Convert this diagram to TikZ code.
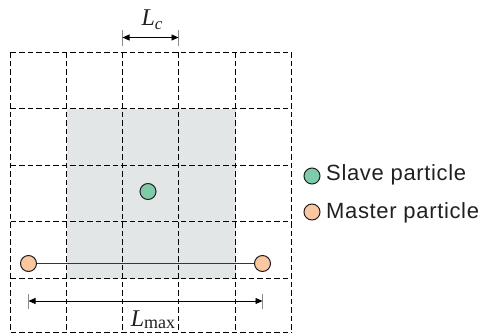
\documentclass[tikz,border=0pt]{standalone}
\usepackage{fontspec}
\setmainfont{Liberation Serif}
\newfontfamily\legendfont[LetterSpace=3]{Liberation Sans}
\usetikzlibrary{arrows.meta}
\definecolor{shadecol}{HTML}{E3E6E7}
\definecolor{slavecol}{HTML}{7DCBA8}
\definecolor{mastercol}{HTML}{F9C7A0}
\definecolor{inkcol}{HTML}{231F20}
\definecolor{barcol}{HTML}{8A8A8A}
\begin{document}
\begin{tikzpicture}[x=1pt,y=-1pt,
  gridline/.style={draw=black,line width=0.8pt,dash pattern=on 5.5pt off 3pt},
  particle/.style={circle,draw=inkcol,line width=1pt,minimum size=16pt,inner sep=0pt},
  slave/.style={particle,fill=slavecol},
  master/.style={particle,fill=mastercol},
  dimline/.style={draw=black,line width=0.9pt,{Triangle[length=7pt,width=6pt]}-{Triangle[length=7pt,width=6pt]}},
  dimbar/.style={draw=barcol,line width=1pt},
  legendtext/.style={anchor=base west,inner sep=0pt,text=inkcol,font=\legendfont\fontsize{22}{25}\selectfont},
  dimlabel/.style={inner sep=0pt,text=inkcol,font=\fontsize{24}{27}\selectfont}]
\useasboundingbox (0,0) rectangle (485,335);
% shaded neighbourhood
\fill[shadecol] (66.5,108.5) rectangle (235.5,278.5);
% dashed grid
\foreach \x in {10.5,66.5,122.5,178.5,235.5,291.5}
  \draw[gridline] (\x,52) -- (\x,332);
\foreach \y in {52,108.5,165,221.5,278.5,332}
  \draw[gridline] (10.5,\y) -- (291.5,\y);
% particles
\node[slave] (s) at (148,191.5) {};
\node[master] (m1) at (28.5,263.5) {};
\node[master] (m2) at (262.5,263.5) {};
\draw[draw=inkcol!90,line width=1.7pt] (m1) -- (m2);
% Lc dimension
\coordinate (lca) at (122.5,37.5);
\coordinate (lcb) at (178.5,37.5);
\draw[dimbar] ([yshift=-8.5pt]lca) -- ([yshift=8pt]lca);
\draw[dimbar] ([yshift=-8.5pt]lcb) -- ([yshift=8pt]lcb);
\draw[dimline] (lca) -- (lcb);
\node[dimlabel,anchor=base] (lc) at (152,25) {\textit{L}\raisebox{-4pt}{\fontsize{17}{20}\selectfont\textit{c}}};
% Lmax dimension
\coordinate (lma) at (28.5,301);
\coordinate (lmb) at (262.5,301);
\draw[dimbar] ([yshift=-7.5pt]lma) -- ([yshift=7.5pt]lma);
\draw[dimbar] ([yshift=-7.5pt]lmb) -- ([yshift=7.5pt]lmb);
\draw[dimline] (lma) -- (lmb);
\node[dimlabel,anchor=base] (lmax) at (153,326.5) {\textit{L}\raisebox{-1.5pt}{\fontsize{18}{20}\selectfont max}};
% legend
\node[slave] (ls) at (312,176) {};
\node[legendtext] (lst) at (326,180.5) {Slave particle};
\node[master] (lm) at (312,212) {};
\node[legendtext] (lmt) at (326,218.5) {Master particle};
\end{tikzpicture}
\end{document}
